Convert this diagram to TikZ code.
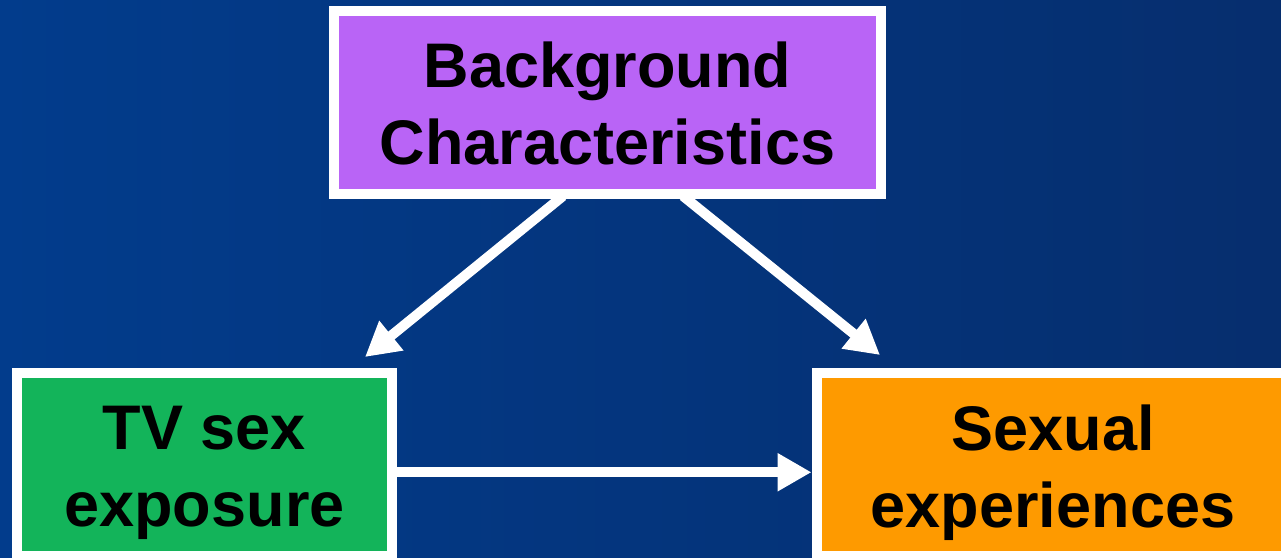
\documentclass[tikz,border=0pt]{standalone}
\usepackage{fontspec}
\setmainfont{Liberation Sans}
\usetikzlibrary{arrows.meta}

\definecolor{bgleft}{HTML}{023C8C}
\definecolor{bgright}{HTML}{062E6E}
\definecolor{boxpurple}{HTML}{B964F6}
\definecolor{boxgreen}{HTML}{13B45A}
\definecolor{boxorange}{HTML}{FE9A00}

\tikzset{
  factor/.style={draw=white, line width=10pt, inner sep=0pt, minimum height=183.5pt},
  label text/.style={text=black, align=center, inner sep=0pt,
    font=\fontsize{63}{77}\selectfont\bfseries},
  link/.style={draw=white, line width=10pt,
    -{Triangle[length=34pt,width=36pt]}},
}

\begin{document}
\begin{tikzpicture}[x=1pt, y=-1pt]
  % backdrop
  \shade[left color=bgleft, right color=bgright] (0,0) rectangle (1281,557);
  \useasboundingbox (0,0) rectangle (1281,557);

  % the three factor boxes
  \node[factor, fill=boxpurple, minimum width=547pt, minimum height=183pt] (bg) at (607.5,102.5) {};
  \node[factor, fill=boxgreen, minimum width=375pt] (tv) at (204.5,464.25) {};
  \node[factor, fill=boxorange, minimum width=473pt] (sx) at (1053,464.25) {};

  % box captions
  \node[label text] (bgt) at (607.5,103.5) {Background\\Characteristics};
  \node[label text] (tvt) at (204.5,473) {TV sex\\exposure};
  \node[label text] (sxt) at (1053,472.5) {Sexual\\experiences};

  % arrow anchors
  \coordinate (bgL) at (563,196);
  \coordinate (bgR) at (683,196);
  \coordinate (tvIn) at (365,357);
  \coordinate (sxIn) at (880,355);

  % connectors
  \draw[link] (bgL) -- (tvIn);
  \draw[link] (bgR) -- (sxIn);
  \draw[link] ([yshift=-8pt]tv.east) -- ([yshift=-8pt]sx.west);
\end{tikzpicture}
\end{document}
